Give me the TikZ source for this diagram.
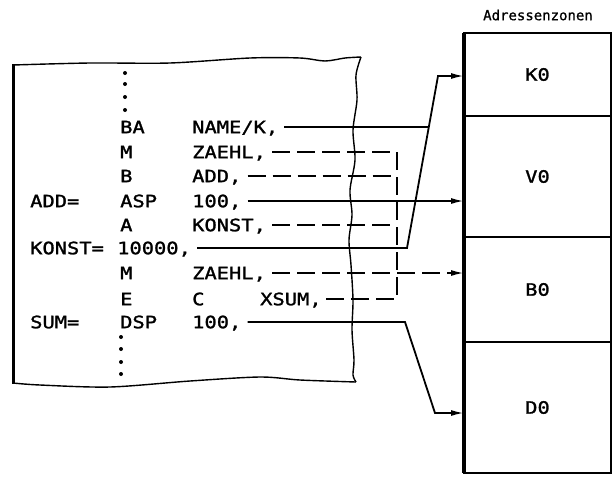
\documentclass[tikz,border=0pt]{standalone}
\usepackage{fontspec}
\newfontfamily\codefont{DejaVu Sans Mono}[FakeStretch=1.2,FakeBold=1.5]
\newfontfamily\titlefont{DejaVu Sans Mono}[FakeBold=0.8]
\usetikzlibrary{
    arrows.meta,
    calc
}
\tikzset{
  x=1pt, y=-1pt,
  code/.style={
    font=\codefont\fontsize{17}{17}\selectfont,
    inner sep=0pt, text height=12.4pt, text depth=0pt,
    anchor=west
  },
  zone/.style={
    draw, line width=2.2pt, outer sep=0pt, anchor=north west,
    minimum width=147pt,
    font=\codefont\fontsize{17}{17}\selectfont
  },
  link/.style={line width=1.8pt, shorten <=6pt},
  bus/.style={link, dash pattern=on 18pt off 7pt},
  hit/.style={-{Latex[length=13pt,width=6pt]}},
  sheet/.style={line width=1.4pt}
}

\begin{document}
\begin{tikzpicture}
\useasboundingbox (0,0) rectangle (612,477);

% program sheet
\draw[line width=3pt] (13,64) -- (13,384);
\draw[sheet] plot[smooth] coordinates {(13,65) (90,63) (170,63) (250,58) (300,58) (325,61) (345,58) (361,57)};
\draw[sheet] plot[smooth] coordinates {(361,57) (356,75) (357,100) (353,130) (355,160) (350,190) (352,215) (349,240) (351,265) (353,300) (352,330) (354,360) (353,375) (356,382)};
\draw[sheet] plot[smooth] coordinates {(13,383) (40,385) (110,387) (190,381) (260,377) (300,380) (356,382)};
\foreach \y in {73,84,97,110} \fill (125,\y) circle (2pt);
\foreach \y in {337,349,362,374} \fill (121,\y) circle (2pt);

% program lines
\node[code] (op1) at (120,127) {BA};
\node[code] (arg1) at (192,127) {NAME/K,};
\node[code] (op2) at (120,152) {M};
\node[code] (arg2) at (192,152) {ZAEHL,};
\node[code] (op3) at (120,176) {B};
\node[code] (arg3) at (192,176) {ADD,};
\node[code] (lbl4) at (30,201) {ADD=};
\node[code] (op4) at (120,201) {ASP};
\node[code] (arg4) at (192,201) {100,};
\node[code] (op5) at (120,225) {A};
\node[code] (arg5) at (192,225) {KONST,};
\node[code] (lbl6) at (30,248) {KONST=};
\node[code] (arg6) at (117,248) {10000,};
\node[code] (op7) at (120,273) {M};
\node[code] (arg7) at (192,273) {ZAEHL,};
\node[code] (op8) at (120,299) {E};
\node[code] (arg8) at (192,299) {C};
\node[code] (sum8) at (260,299) {XSUM,};
\node[code] (lbl9) at (30,322) {SUM=};
\node[code] (op9) at (120,322) {DSP};
\node[code] (arg9) at (192,322) {100,};

% address zones
\node[font=\titlefont\fontsize{14}{14}\selectfont] (title) at (538,15) {Adressenzonen};
\node[zone, minimum height=83pt] (k0) at (464,33) {K0};
\node[zone, minimum height=121pt] (v0) at (k0.south west) {V0};
\node[zone, minimum height=105pt] (b0) at (v0.south west) {B0};
\node[zone, minimum height=131pt] (d0) at (b0.south west) {D0};
\draw[line width=3.5pt] (k0.north west) -- (d0.south west);

% connectors
\coordinate (kfoot) at (407,248);
\coordinate (kbend) at (438,76);
\coordinate (kjoin) at (428.7,127);
\coordinate (dtop) at (405,322);
\coordinate (dbend) at (435,413);
\coordinate (bustop) at (397,152);
\coordinate (busfoot) at (397,299);

\draw[link] (arg1) -- (kjoin);
\draw[link,hit] (arg6) -- (kfoot) -- (kbend) -- (kbend -| k0.west);
\draw[link,hit] (arg4) -- (arg4 -| v0.west);
\draw[link,hit] (arg9) -- (dtop) -- (dbend) -- (dbend -| d0.west);
\draw[bus] (arg2) -- (bustop) -- (busfoot) -- (sum8);
\draw[bus] (arg3) -- (arg3 -| bustop);
\draw[bus] (arg5) -- (arg5 -| bustop);
\draw[bus,hit] (arg7) -- (arg7 -| b0.west);
\end{tikzpicture}
\end{document}
